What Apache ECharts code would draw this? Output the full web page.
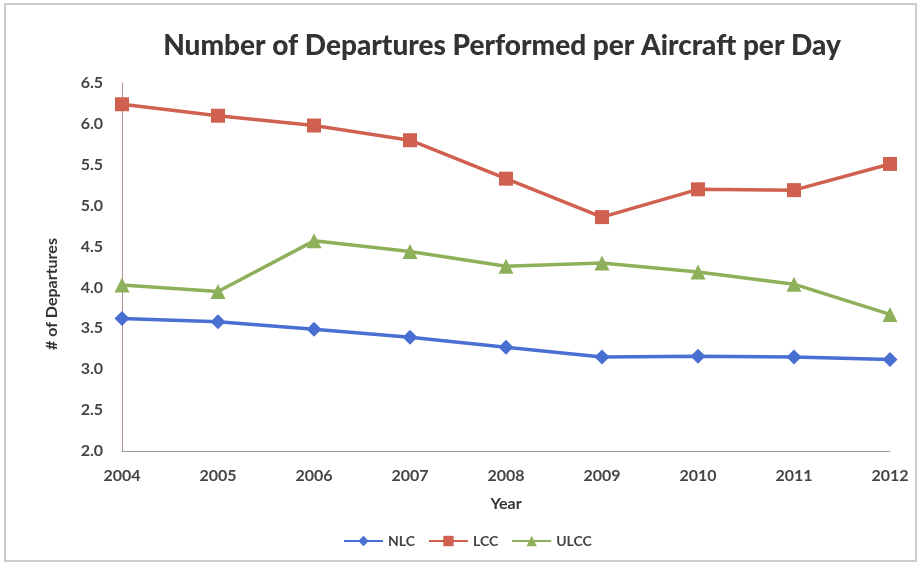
<!DOCTYPE html>
<html><head><meta charset="utf-8">
<script src="https://cdn.jsdelivr.net/npm/echarts@6/dist/echarts.min.js"></script>
<style>html,body{margin:0;padding:0;background:#fff}#c{width:919px;height:564px}</style>
</head><body><div id="c"></div>
<script>
const years = ['2004','2005','2006','2007','2008','2009','2010','2011','2012'];
const nlc  = [3.62, 3.58, 3.49, 3.39, 3.27, 3.15, 3.16, 3.15, 3.12];
const lcc  = [6.24, 6.10, 5.98, 5.80, 5.33, 4.86, 5.20, 5.19, 5.51];
const ulcc = [4.03, 3.95, 4.57, 4.44, 4.26, 4.30, 4.19, 4.04, 3.67];
const yTicks = {min: 2.0, max: 6.5, step: 0.5};

const font = 'Lato, "Open Sans", sans-serif';
const chart = echarts.init(document.getElementById('c'));
chart.setOption({
  animation: false,
  graphic: [{type:'rect', shape:{x:5,y:4,width:911,height:557}, style:{fill:'none', stroke:'#bdbdbd', lineWidth:1.5}}],
  title: {text:'Number of Departures Performed per Aircraft per Day', left: 497, textAlign:'center', top:27,
    textStyle:{fontFamily:font, fontWeight:900, fontSize:28, color:'#333'}},
  grid: {left:122, right:29, top:83, bottom:113},
  legend: {top:529, left:338, itemWidth:39, itemHeight:13, itemGap:13,
    textStyle:{fontFamily:font, fontSize:14, fontWeight:'bold', color:'#444'},
    data:['NLC','LCC','ULCC']},
  xAxis: {type:'category', data:years, boundaryGap:false,
    name:'Year', nameLocation:'middle', nameGap:45,
    nameTextStyle:{fontFamily:font, fontWeight:'bold', fontSize:16, color:'#333'},
    axisLine:{lineStyle:{color:'#9a9a9a'}}, axisTick:{show:false},
    axisLabel:{fontFamily:font, fontSize:16, fontWeight:'bold', color:'#444', margin:17}},
  yAxis: {type:'value', min:yTicks.min, max:yTicks.max, interval:yTicks.step,
    name:'# of Departures', nameLocation:'middle', nameGap:62, nameRotate:90,
    nameTextStyle:{fontFamily:font, fontWeight:'bold', fontSize:16, color:'#333', padding:[0,54,0,0]},
    axisLine:{show:true, lineStyle:{color:'#b89090'}}, axisTick:{show:false}, splitLine:{show:false},
    axisLabel:{fontFamily:font, fontSize:16, fontWeight:'bold', color:'#444', margin:19, formatter:v=>v.toFixed(1)}},
  series: [
    {name:'NLC', type:'line', data:nlc, symbol:'diamond', symbolSize:15,
      lineStyle:{width:3.5, color:'#4a6fd3'}, itemStyle:{color:'#4a6fd3'}},
    {name:'LCC', type:'line', data:lcc, symbol:'rect', symbolSize:14,
      lineStyle:{width:3.5, color:'#d0604f'}, itemStyle:{color:'#d0604f'}},
    {name:'ULCC', type:'line', data:ulcc, symbol:'triangle', symbolSize:15,
      lineStyle:{width:3.5, color:'#8fb05a'}, itemStyle:{color:'#8fb05a'}}
  ]
});
</script></body></html>
